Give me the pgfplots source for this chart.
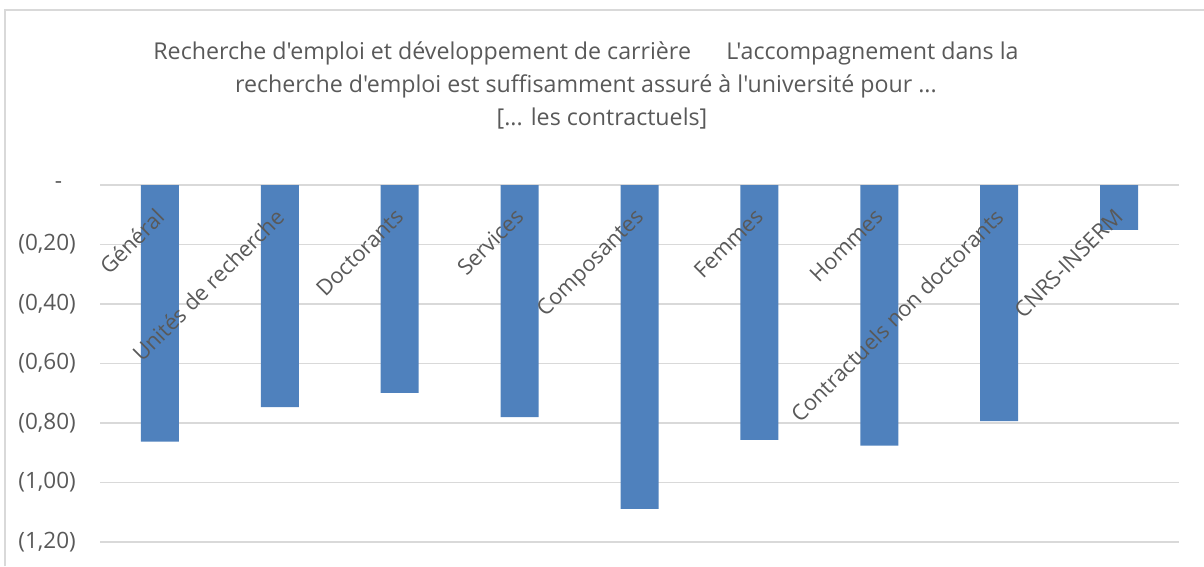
\documentclass[border=0pt]{standalone}
\usepackage{fontspec}
\setmainfont{Open Sans}[Ligatures=TeXOff]
\usepackage{pgfplots}
\pgfplotsset{compat=1.18}
\definecolor{barblue}{HTML}{4F81BD}
\definecolor{txt}{HTML}{595959}
\definecolor{gridc}{HTML}{D9D9D9}
\newcommand{\tf}{\fontsize{23.2}{28}\selectfont}
\newcommand{\lf}{\fontsize{22.5}{27}\selectfont}
\newcommand{\cf}{\fontsize{21.8}{26}\selectfont}
\begin{document}
\begin{tikzpicture}[x=1pt,y=1pt]
\path[use as bounding box] (0,0) rectangle (1204,566);
\draw[gridc, line width=1.5pt] (5,0) -- (5,556) -- (1204,556);
\node[txt, font=\tf, anchor=base, inner sep=0pt] at (586,506) {Recherche d'emploi et développement de carrière\quad\ \ L'accompagnement dans la};
\node[txt, font=\tf, anchor=base, inner sep=0pt] at (586,473) {recherche d'emploi est suffisamment assuré à l'université pour ...};
\node[txt, font=\tf, anchor=base, inner sep=0pt] at (602,440) {[... les contractuels]};
\begin{axis}[
  at={(100pt,24pt)}, anchor=south west,
  scale only axis, width=1079pt, height=357pt,
  xmin=-0.5, xmax=8.5, ymin=-1.2, ymax=0,
  xtick=\empty,
  ytick={-1.2,-1,-0.8,-0.6,-0.4,-0.2,0},
  yticklabels={{(1,20)},{(1,00)},{(0,80)},{(0,60)},{(0,40)},{(0,20)},{\makebox[21pt][l]{-}}},
  yticklabel style={anchor=east, inner sep=0pt, xshift=-24pt, txt, font=\lf},
  ymajorgrids, grid style={gridc, line width=1.3pt},
  axis line style={draw=none},
  major tick length=0pt,
  ybar, bar width=38pt,
  clip=false,
]
\addplot[fill=barblue, draw=none] coordinates {
  (0,-0.863) (1,-0.747) (2,-0.699) (3,-0.780) (4,-1.089)
  (5,-0.857) (6,-0.876) (7,-0.794) (8,-0.151)
};
\tikzset{cl/.style={rotate=45, anchor=north east, inner sep=0pt, txt, font=\cf}}
\node[cl] at ([xshift=-6pt,yshift=-22pt]axis cs:0,0) {Général};
\node[cl] at ([xshift=-6pt,yshift=-22pt]axis cs:1,0) {Unités de recherche};
\node[cl] at ([xshift=-6pt,yshift=-22pt]axis cs:2,0) {Doctorants};
\node[cl] at ([xshift=-6pt,yshift=-22pt]axis cs:3,0) {Services};
\node[cl] at ([xshift=-6pt,yshift=-22pt]axis cs:4,0) {Composantes};
\node[cl] at ([xshift=-6pt,yshift=-22pt]axis cs:5,0) {Femmes};
\node[cl] at ([xshift=-6pt,yshift=-22pt]axis cs:6,0) {Hommes};
\node[cl] at ([xshift=-6pt,yshift=-22pt]axis cs:7,0) {Contractuels non doctorants};
\node[cl] at ([xshift=-6pt,yshift=-22pt]axis cs:8,0) {CNRS-INSERM};
\end{axis}
\end{tikzpicture}
\end{document}
